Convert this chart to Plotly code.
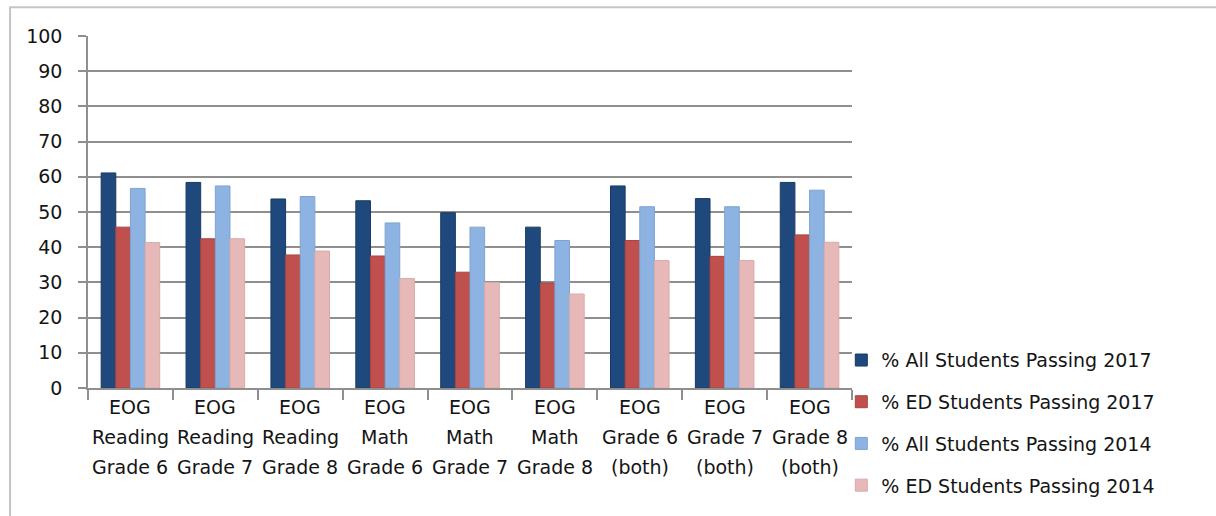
import plotly.graph_objects as go

# End-of-grade results by test and grade
categories = [
    "EOG<br>Reading<br>Grade 6",
    "EOG<br>Reading<br>Grade 7",
    "EOG<br>Reading<br>Grade 8",
    "EOG<br>Math<br>Grade 6",
    "EOG<br>Math<br>Grade 7",
    "EOG<br>Math<br>Grade 8",
    "EOG<br>Grade 6<br>(both)",
    "EOG<br>Grade 7<br>(both)",
    "EOG<br>Grade 8<br>(both)",
]

all_2017 = [61.1, 58.4, 53.7, 53.2, 49.8, 45.7, 57.4, 53.8, 58.4]
ed_2017 = [45.7, 42.4, 37.8, 37.5, 32.9, 29.8, 41.9, 37.4, 43.5]
all_2014 = [56.7, 57.4, 54.4, 46.9, 45.7, 41.9, 51.5, 51.5, 56.2]
ed_2014 = [41.3, 42.4, 38.9, 31.1, 30.0, 26.7, 36.2, 36.2, 41.4]

series_names = [
    "% All Students Passing 2017",
    "% ED Students Passing 2017",
    "% All Students Passing 2014",
    "% ED Students Passing 2014",
]
series_values = [all_2017, ed_2017, all_2014, ed_2014]
colors = ["#1F497D", "#C0504D", "#8DB3E2", "#E6B9B8"]
edge_colors = ["#183a63", "#a94441", "#7fa3d0", "#d9aaa9"]

FONT = "DejaVu Sans"
TEXT = "#141414"
GRID = "#8f8f8f"

fig = go.Figure()
for name, vals, col, edge in zip(series_names, series_values, colors, edge_colors):
    fig.add_trace(go.Bar(
        x=categories,
        y=vals,
        name=name,
        legendgroup=name,
        marker=dict(color=col, line=dict(color=edge, width=1)),
    ))

fig.update_layout(
    width=1216,
    height=516,
    margin=dict(l=88, r=364, t=36, b=128, autoexpand=False),
    paper_bgcolor="white",
    plot_bgcolor="white",
    barmode="group",
    bargap=0.31,
    bargroupgap=0,
    font=dict(family=FONT, size=19, color=TEXT),
    legend=dict(
        x=0.986, xanchor="left",
        y=0.133, yanchor="top",
        traceorder="grouped",
        tracegroupgap=14,
        font=dict(family=FONT, size=19, color=TEXT),
        bgcolor="rgba(0,0,0,0)",
    ),
    showlegend=True,
)

fig.update_yaxes(
    range=[0, 100],
    dtick=10,
    showgrid=True,
    gridcolor=GRID,
    gridwidth=1.5,
    showline=True,
    linecolor=GRID,
    linewidth=1.5,
    ticks="outside",
    ticklen=8,
    tickcolor=GRID,
    tickwidth=1.5,
    ticklabelstandoff=12,
    tickfont=dict(family=FONT, size=19, color=TEXT),
    zeroline=False,
    automargin=False,
)

fig.update_xaxes(
    showline=True,
    linecolor=GRID,
    linewidth=1.5,
    ticks="outside",
    tickson="boundaries",
    ticklen=10,
    tickcolor=GRID,
    tickwidth=1.5,
    showticklabels=False,
    automargin=False,
)

# Category labels, one line per row with wide line spacing
row_offsets = [-19, -49, -79]
for cat in categories:
    for line, dy in zip(cat.split("<br>"), row_offsets):
        fig.add_annotation(
            x=cat, xref="x", y=0, yref="paper",
            text=line, showarrow=False,
            xanchor="center", yanchor="middle", yshift=dy,
            font=dict(family=FONT, size=19, color=TEXT),
        )

# Outer chart frame (top and left edges)
fig.add_shape(
    type="rect", xref="paper", yref="paper",
    x0=-0.102, x1=1.7, y0=-0.6, y1=1.082,
    line=dict(color="#c4c4c4", width=2),
    fillcolor="rgba(0,0,0,0)",
    layer="below",
)

fig.write_html("out.html")
